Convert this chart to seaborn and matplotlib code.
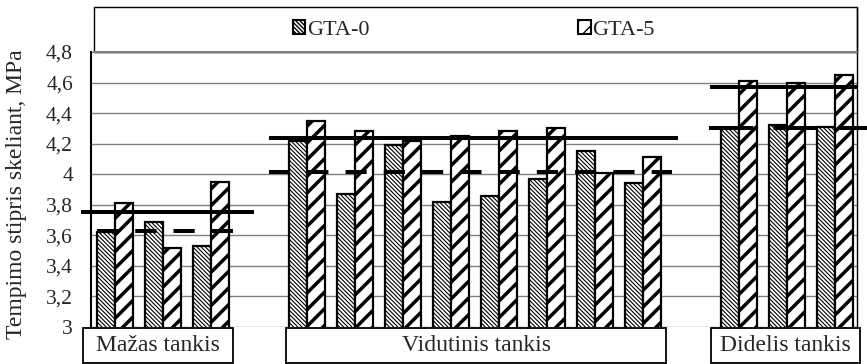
import numpy as np
import pandas as pd
import matplotlib
matplotlib.use("Agg")
import matplotlib.pyplot as plt
from matplotlib.patches import Rectangle, Patch
from matplotlib.lines import Line2D
import seaborn as sns

# ---------------- data ----------------
groups = ["Mažas tankis", "Vidutinis tankis", "Didelis tankis"]
series = ["GTA-0", "GTA-5"]

maz_gta0 = [3.62, 3.69, 3.53]
maz_gta5 = [3.81, 3.52, 3.95]
vid_gta0 = [4.22, 3.87, 4.19, 3.82, 3.86, 3.97, 4.15, 3.94]
vid_gta5 = [4.35, 4.28, 4.22, 4.25, 4.28, 4.30, 4.01, 4.11]
did_gta0 = [4.30, 4.32, 4.31]
did_gta5 = [4.61, 4.60, 4.65]

mean_gta5 = [3.75, 4.24, 4.57]    # thick solid lines
mean_gta0 = [3.63, 4.015, 4.30]   # thick dashed lines

yticks = [3.0, 3.2, 3.4, 3.6, 3.8, 4.0, 4.2, 4.4, 4.6, 4.8]
ytick_labels = ["3", "3,2", "3,4", "3,6", "3,8", "4", "4,2", "4,4", "4,6", "4,8"]
ylabel = "Tempimo stipris skeliant, MPa"

# ---------------- layout ----------------
W, H = 867, 364
def fx(px): return px / W
def fy(py): return 1 - py / H

group_start = [0, 4, 13]   # slot index of first pair in each group
rows = []
for g, (a, b, s0) in enumerate(zip([maz_gta0, vid_gta0, did_gta0],
                                   [maz_gta5, vid_gta5, did_gta5], group_start)):
    for i, (v0, v5) in enumerate(zip(a, b)):
        rows.append({"slot": s0 + i, "series": series[0], "value": v0})
        rows.append({"slot": s0 + i, "series": series[1], "value": v5})
df = pd.DataFrame(rows)

sns.set_theme(style="white")
plt.rcParams["font.family"] = ["Liberation Serif", "DejaVu Serif"]
plt.rcParams["hatch.color"] = "black"

fig = plt.figure(figsize=(8.67, 3.64), dpi=100)
ax = fig.add_axes([fx(91), fy(327), fx(857) - fx(91), fy(52) - fy(327)])

sns.barplot(data=df, x="slot", y="value", hue="series", hue_order=series,
            native_scale=True, width=0.75, dodge=True,
            palette=["white", "white"], edgecolor="black", linewidth=1.6,
            saturation=1, legend=False, ax=ax, zorder=3)

hatches = ["\\" * 8, "//"]
hatch_lw = [0.8, 2.5]
for cont, h, hl in zip(ax.containers, hatches, hatch_lw):
    for bar in cont:
        bar.set_hatch(h)
        bar.set_edgecolor("black")
        if hasattr(bar, "set_hatch_linewidth"):
            bar.set_hatch_linewidth(hl)

ax.set_ylim(3.0, 4.8)
ax.set_xlim(-0.5, 15.46)
ax.set_yticks(yticks)
ax.set_yticklabels(ytick_labels, fontsize=15.5)
ax.set_xticks([2.5, 3.5, 11.5, 12.5])
ax.set_xticklabels([])
ax.tick_params(axis="x", direction="out", length=4, width=0.8, color="#444444")
ax.tick_params(axis="y", direction="inout", length=10, width=1.0, pad=8.0, color="black")
ax.set_xlabel("")
ax.set_ylabel("")
ax.yaxis.grid(True, color="#808080", linewidth=1.0, zorder=0)
ax.set_axisbelow(True)
for side in ["top", "right", "bottom"]:
    ax.spines[side].set_visible(False)
ax.spines["left"].set_color("black")
ax.spines["left"].set_linewidth(1.5)

# mean lines (extents in slot units)
lw = 2.9
solid_ext = [(-0.71, 2.90), (3.21, 11.73), (12.4, 15.46)]
dash_ext = [(-0.375, 2.46), (3.21, 11.6), (12.375, 15.69)]
dash_pat = [(5.25, 4.25), (5.25, 4.25), (11.0, 5.0)]
for m, (x0, x1) in zip(mean_gta5, solid_ext):
    ax.plot([x0, x1], [m, m], color="black", lw=lw, solid_capstyle="butt",
            clip_on=False, zorder=5)
for m, (x0, x1), pat in zip(mean_gta0, dash_ext, dash_pat):
    ax.plot([x0, x1], [m, m], color="black", lw=lw, linestyle=(0, pat),
            dash_capstyle="butt", clip_on=False, zorder=5)

# right border line (from legend top to axis bottom)
fig.add_artist(Line2D([fx(857), fx(857)], [fy(7), fy(327)], color="black", lw=1.0))
# legend box
fig.add_artist(Rectangle((fx(94), fy(52)), fx(857) - fx(94), fy(7) - fy(52),
                         fill=False, edgecolor="black", lw=1.0))
fig.add_artist(Line2D([fx(94), fx(857)], [fy(52), fy(52)], color="#808080", lw=1.5))

handles = [Patch(facecolor="white", edgecolor="black", hatch="\\" * 8, lw=1.5),
           Patch(facecolor="white", edgecolor="black", hatch="//", lw=1.5)]
for hnd, hl in zip(handles, [1.0, 2.5]):
    if hasattr(hnd, "set_hatch_linewidth"):
        hnd.set_hatch_linewidth(hl)
fig.legend(handles, series, loc="center left", bbox_to_anchor=(fx(293), fy(30)),
           ncol=2, frameon=False, fontsize=16, handlelength=0.55, handleheight=0.55,
           handletextpad=0.08, columnspacing=9.4, borderpad=0.0, borderaxespad=0.0)

# category boxes below the axis
boxes = [(83, 233), (286, 666), (711, 860)]
for name, (x0, x1) in zip(groups, boxes):
    fig.add_artist(Rectangle((fx(x0), fy(363)), fx(x1) - fx(x0), fy(328) - fy(363),
                             fill=True, facecolor="white", edgecolor="black", lw=1.3))
    fig.text(fx((x0 + x1) / 2), fy(345.5), name, ha="center", va="center", fontsize=17)

# y label
fig.text(fx(17), fy(194), ylabel, rotation=90, ha="center", va="center", fontsize=17)

fig.savefig("out.png", dpi=100)
